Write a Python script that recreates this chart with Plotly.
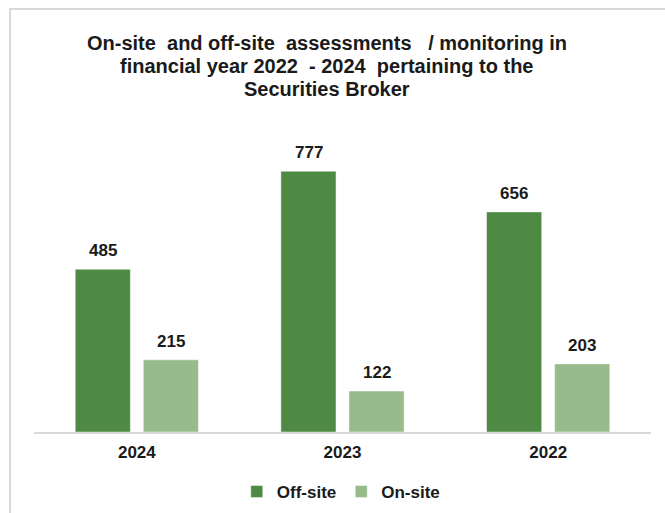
import plotly.graph_objects as go

# Financial years (shown newest first) and assessment counts
years = ["2024", "2023", "2022"]
off_site = [485, 777, 656]
on_site = [215, 122, 203]

series_names = ["Off-site", "On-site"]
colors = ["#4e8a43", "#97bb8b"]
title_lines = [
    "On-site  and off-site  assessments   / monitoring in",
    "financial year 2022  - 2024  pertaining to the",
    "Securities Broker",
]

FONT = "Liberation Sans, Arial, sans-serif"
W, H = 665, 513

fig = go.Figure()
for name, vals, col in zip(series_names, [off_site, on_site], colors):
    fig.add_trace(go.Bar(
        name=name, x=years, y=vals,
        marker=dict(color=col, line=dict(color="rgba(255,255,255,0.45)", width=1)),
    ))

# Value labels above each bar (x given as category index)
shift = {"Off-site": -34, "On-site": 34}
for name, vals in zip(series_names, [off_site, on_site]):
    for idx, v in enumerate(vals):
        fig.add_annotation(
            x=idx, y=v, text=f"<b>{v}</b>", showarrow=False,
            xshift=shift[name], yshift=7, yanchor="bottom",
            font=dict(family=FONT, size=17, color="#1a1a1a"),
        )

# Three-line chart title
for i, line in enumerate(title_lines):
    fig.add_annotation(
        text=f"<b>{line}</b>", showarrow=False,
        xref="paper", x=(327 - 34) / 617, xanchor="center",
        yref="paper", y=(432 - (43 + 23 * i)) / 302, yanchor="middle",
        font=dict(family=FONT, size=20, color="#1a1a1a"),
    )

# Light grey frame around the chart
fig.add_shape(type="rect", xref="paper", yref="paper",
              x0=-0.0389, x1=1.2, y0=-0.5, y1=1.4007,
              line=dict(color="#d9d9d9", width=2), fillcolor="rgba(0,0,0,0)",
              layer="below")

fig.update_layout(
    width=W, height=H,
    margin=dict(l=34, r=14, t=130, b=81),
    paper_bgcolor="white", plot_bgcolor="white",
    barmode="group", bargap=0.338, bargroupgap=0.19,
    xaxis=dict(type="category", range=[-0.5, 2.5], showline=True, automargin=False,
               linecolor="#d9d9d9", linewidth=2, ticks="", ticklabelstandoff=4,
               tickfont=dict(family=FONT, size=17, color="#1a1a1a", weight="bold"),
               showgrid=False),
    yaxis=dict(range=[0, 900], visible=False, showgrid=False),
    legend=dict(orientation="h", x=0.498, xanchor="center",
                yref="container", y=1 - 492 / H, yanchor="middle",
                font=dict(family=FONT, size=17, color="#1a1a1a", weight="bold"),
                itemwidth=30),
    showlegend=True,
)

fig.write_html("out.html")
